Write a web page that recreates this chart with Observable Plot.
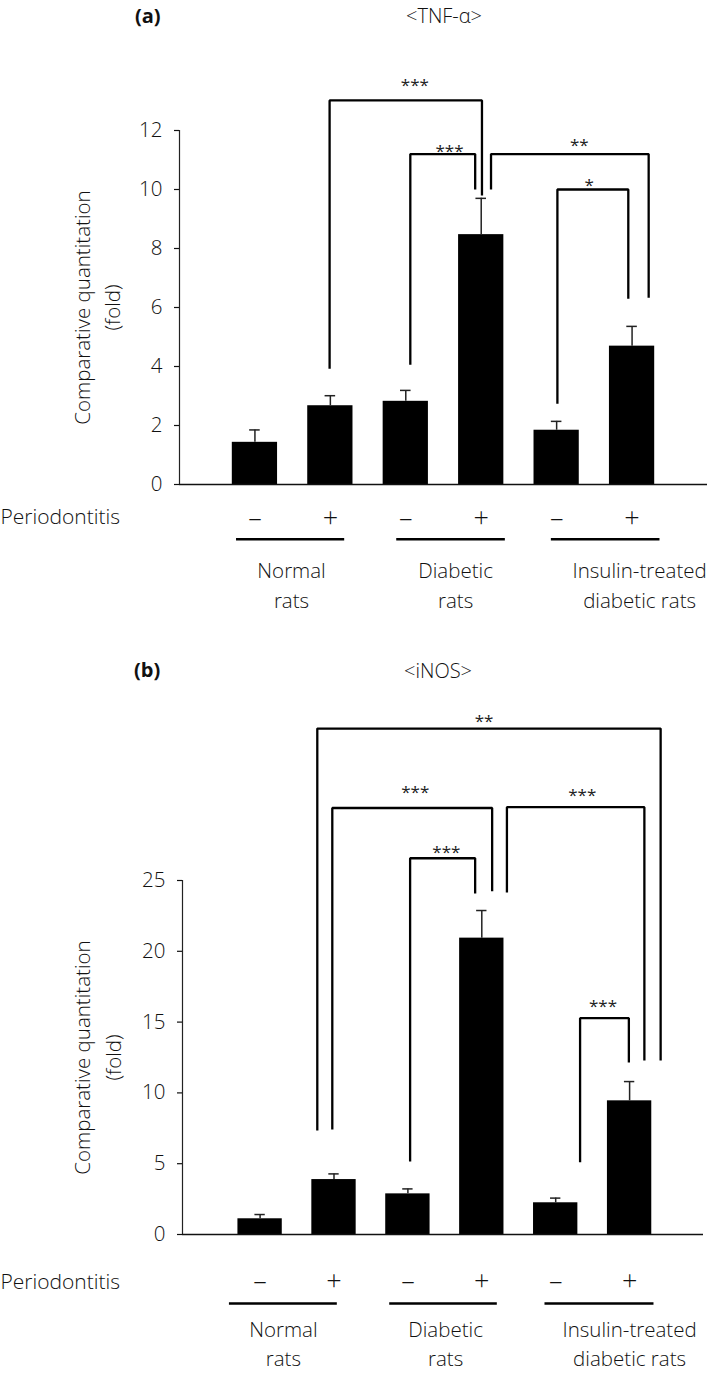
<!DOCTYPE html>
<html><head><meta charset="utf-8">
<script src="https://cdn.jsdelivr.net/npm/d3@7"></script>
<script src="https://cdn.jsdelivr.net/npm/@observablehq/plot@0.6"></script>
<style>
html,body{margin:0;padding:0;background:#fff;}
#wrap{position:relative;width:709px;height:1373px;overflow:hidden;font-family:"Open Sans","Noto Sans",sans-serif;color:#111;}
.pan{position:absolute;left:0;}
.tag{position:absolute;font-weight:bold;font-size:20px;line-height:1;transform:translateY(-50%);}
.ttl{position:absolute;font-size:20px;font-weight:300;line-height:1;transform:translate(-50%,-50%);white-space:nowrap;}
</style></head><body>
<div id="wrap"></div>
<script>
// ---------- data ----------
const periodontitis = ["–", "+", "–", "+", "–", "+"];
const groupLabels = ["Normal\nrats", "Diabetic\nrats", "Insulin-treated\ndiabetic rats"];

const tnfMean = [1.43, 2.67, 2.82, 8.47, 1.84, 4.69];
const tnfErr  = [0.42, 0.34, 0.37, 1.23, 0.30, 0.67];
const tnfTicks = [0, 2, 4, 6, 8, 10, 12];

const inosMean = [1.11, 3.88, 2.87, 20.93, 2.24, 9.44];
const inosErr  = [0.30, 0.40, 0.35, 1.95, 0.33, 1.36];
const inosTicks = [0, 5, 10, 15, 20, 25];

// significance brackets: x in bar-index units, y in data units
const tnfBrackets = [
  {label: "***", x1: 0.99, x2: 3.01, level: 13.02, leg1: 3.92, leg2: 9.8,  lx: 2.12, ly: 13.65},
  {label: "***", x1: 2.06, x2: 2.92, level: 11.2,  leg1: 4.06, leg2: 10.0, lx: 2.58, ly: 11.43},
  {label: "**",  x1: 3.13, x2: 5.22, level: 11.2,  leg1: 10.0, leg2: 6.33, lx: 4.30, ly: 11.64},
  {label: "*",   x1: 4.01, x2: 4.95, level: 10.0,  leg1: 2.74, leg2: 6.3,  lx: 4.43, ly: 10.28}
];
const inosBrackets = [
  {label: "**",  x1: 0.774, x2: 5.42, level: 35.73, leg1: 7.34, leg2: 12.29, lx: 3.03, ly: 36.51},
  {label: "***", x1: 0.977, x2: 3.14, level: 30.12, leg1: 7.42, leg2: 24.24, lx: 2.10, ly: 31.5},
  {label: "***", x1: 3.34,  x2: 5.2,  level: 30.18, leg1: 24.15, leg2: 12.29, lx: 4.36, ly: 31.29},
  {label: "***", x1: 2.03,  x2: 2.91, level: 26.57, leg1: 5.16, leg2: 24.08, lx: 2.52, ly: 27.28},
  {label: "***", x1: 4.33,  x2: 4.99, level: 15.28, leg1: 5.1,  leg2: 12.15, lx: 4.64, ly: 16.41}
];

// ---------- layout ----------
const FONT = '"Open Sans","Noto Sans",sans-serif';
const panels = [
  {tag: "(a)", title: "<TNF-\u03b1>", top: 0, height: 640, ml: 179, mr: 2, mt: 130, mb: 156,
   xdom: [-1.0, 6.0], ymax: 12, mean: tnfMean, err: tnfErr, ticks: tnfTicks, brackets: tnfBrackets,
   tagX: 135, tagY: 16, titleX: 444, titleY: 16, signPad: 23, ytDx: -84.4,
   underY: -1.86, under: [[-0.244, 1.19], [1.88, 3.32], [3.93, 5.37]],
   groupY: -3.35, groupX: [0.485, 2.66, 5.1], periY: -1.12},
  {tag: "(b)", title: "<iNOS>", top: 660, height: 713, ml: 182, mr: 6, mt: 220, mb: 139,
   xdom: [-1.05, 6.0], ymax: 25, mean: inosMean, err: inosErr, ticks: inosTicks, brackets: inosBrackets,
   tagX: 134, tagY: 670, titleX: 438, titleY: 671, signPad: 36, ytDx: -86.5,
   underY: -4.87, under: [[-0.415, 1.045], [1.754, 3.21], [3.855, 5.33]],
   groupY: -7.6, groupX: [0.315, 2.51, 5.0], periY: -3.39}
];

const wrap = document.getElementById("wrap");

for (const p of panels) {
  const rows = p.mean.map((m, i) => ({i, m, top: m + p.err[i]}));
  const pts = p.brackets.flatMap((b, k) => [
    {k, x: b.x1, y: b.leg1}, {k, x: b.x1, y: b.level},
    {k, x: b.x2, y: b.level}, {k, x: b.x2, y: b.leg2}
  ]);
  const unders = p.under.map(([a, b], g) => ({g, a, b}));
  const groups = groupLabels.map((t, g) => ({t, x: p.groupX[g]}));

  const svg = Plot.plot({
    width: 709, height: p.height,
    marginLeft: p.ml, marginRight: p.mr, marginTop: p.mt, marginBottom: p.mb,
    x: {domain: p.xdom, axis: null},
    y: {domain: [0, p.ymax], axis: null},
    style: {fontFamily: FONT, fontSize: "20px", fontWeight: 300, color: "#111", background: "transparent", overflow: "visible"},
    marks: [
      Plot.axisY({ticks: p.ticks, tickSize: 5, tickPadding: 12, fontSize: 20.5, tickFormat: d => String(d), strokeWidth: 1.2}),
      Plot.axisX({ticks: d3.range(6), tickFormat: i => periodontitis[i], tickSize: 0, tickPadding: p.signPad, fontSize: 27}),
      Plot.ruleX([p.xdom[0]], {y1: 0, y2: p.ymax, strokeWidth: 1.2, stroke: "#222"}),
      Plot.rectY(rows, {x1: d => d.i - 0.3, x2: d => d.i + 0.3, y1: 0, y2: "m", fill: "black"}),
      Plot.ruleX(rows, {x: "i", y1: "m", y2: "top", strokeWidth: 1.5, stroke: "#222"}),
      Plot.ruleY(rows, {y: "top", x1: d => d.i - 0.07, x2: d => d.i + 0.07, strokeWidth: 1.5, stroke: "#222"}),
      Plot.ruleY([0], {strokeWidth: 1.6, stroke: "#111"}),
      Plot.line(pts, {x: "x", y: "y", z: "k", stroke: "black", strokeWidth: 2.3, strokeLinecap: "butt", strokeLinejoin: "miter"}),
      Plot.text(p.brackets, {x: "lx", y: "ly", text: "label", fontSize: 17, fontWeight: 400, lineAnchor: "middle", dy: 4, fill: "#222"}),
      Plot.ruleY(unders, {y: () => p.underY, x1: "a", x2: "b", strokeWidth: 2.5, stroke: "black"}),
      Plot.text(groups, {x: "x", y: () => p.groupY, text: "t", fontSize: 20.5, lineHeight: 1.45, lineAnchor: "middle"}),
      Plot.text(["Periodontitis"], {y: () => p.periY, frameAnchor: "left", dx: -p.ml, textAnchor: "start", text: d => d, fontSize: 21, lineAnchor: "middle"}),
      Plot.text(["Comparative quantitation\n(fold)"], {frameAnchor: "left", dx: p.ytDx, rotate: -90, text: d => d, fontSize: 20.5, lineHeight: 1.5, lineAnchor: "middle", textAnchor: "middle"})
    ]
  });
  const box = document.createElement("div");
  box.className = "pan";
  box.style.top = p.top + "px";
  box.appendChild(svg);
  wrap.appendChild(box);

  const tag = document.createElement("div");
  tag.className = "tag"; tag.textContent = p.tag;
  tag.style.left = p.tagX + "px"; tag.style.top = p.tagY + "px";
  wrap.appendChild(tag);
  const ttl = document.createElement("div");
  ttl.className = "ttl"; ttl.textContent = p.title;
  ttl.style.left = p.titleX + "px"; ttl.style.top = p.titleY + "px";
  wrap.appendChild(ttl);
}
</script>
</body></html>
